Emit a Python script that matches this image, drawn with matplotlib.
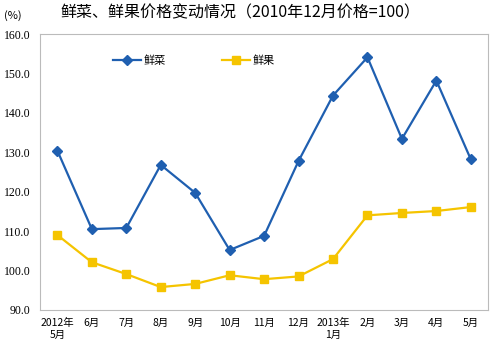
import matplotlib
matplotlib.use("Agg")
import matplotlib.pyplot as plt

plt.rcParams['font.family'] = ['Noto Sans CJK SC', 'DejaVu Sans']

# 数据
months = ["2012年\n5月", "6月", "7月", "8月", "9月", "10月", "11月", "12月",
          "2013年\n1月", "2月", "3月", "4月", "5月"]
veg = [130.4, 110.5, 110.8, 126.8, 119.7, 105.2, 108.8, 127.8, 144.4, 154.1, 133.4, 148.2, 128.2]
fruit = [109.0, 102.1, 99.1, 95.8, 96.6, 98.8, 97.8, 98.5, 102.9, 114.0, 114.6, 115.1, 116.1]
yticks = [90, 100, 110, 120, 130, 140, 150, 160]

fig = plt.figure(figsize=(4.9, 3.51), dpi=100)
ax = fig.add_axes([0.082, 0.117, 0.914, 0.786])

x = list(range(len(months)))
ax.plot(x, veg, color="#1F5FB0", lw=1.6, marker="D", ms=5, label="鲜菜")
ax.plot(x, fruit, color="#F5C400", lw=1.6, marker="s", ms=6, label="鲜果")

ax.set_xlim(-0.5, len(months) - 0.5)
ax.set_ylim(90, 160)
ax.set_yticks(yticks)
ax.set_yticklabels([f"{v:.1f}" for v in yticks], fontsize=8.5,
                   family=["Liberation Serif"])
ax.set_xticks(x)
ax.set_xticklabels(months, fontsize=7.5)
ax.tick_params(length=0, pad=6)
ax.tick_params(axis="y", pad=7)
for s in ax.spines.values():
    s.set_color("#BBBBBB")

ax.legend(loc="upper left", bbox_to_anchor=(0.14, 0.96), ncol=2, frameon=False,
          fontsize=8, columnspacing=5, handlelength=2.5, handletextpad=0.3)

fig.text(0.49, 0.962, "鲜菜、鲜果价格变动情况（2010年12月价格=100）",
         ha="center", va="center", fontsize=11.5)
fig.text(0.008, 0.955, "(%)", fontsize=8, va="center")

fig.savefig("out.png", dpi=100)
